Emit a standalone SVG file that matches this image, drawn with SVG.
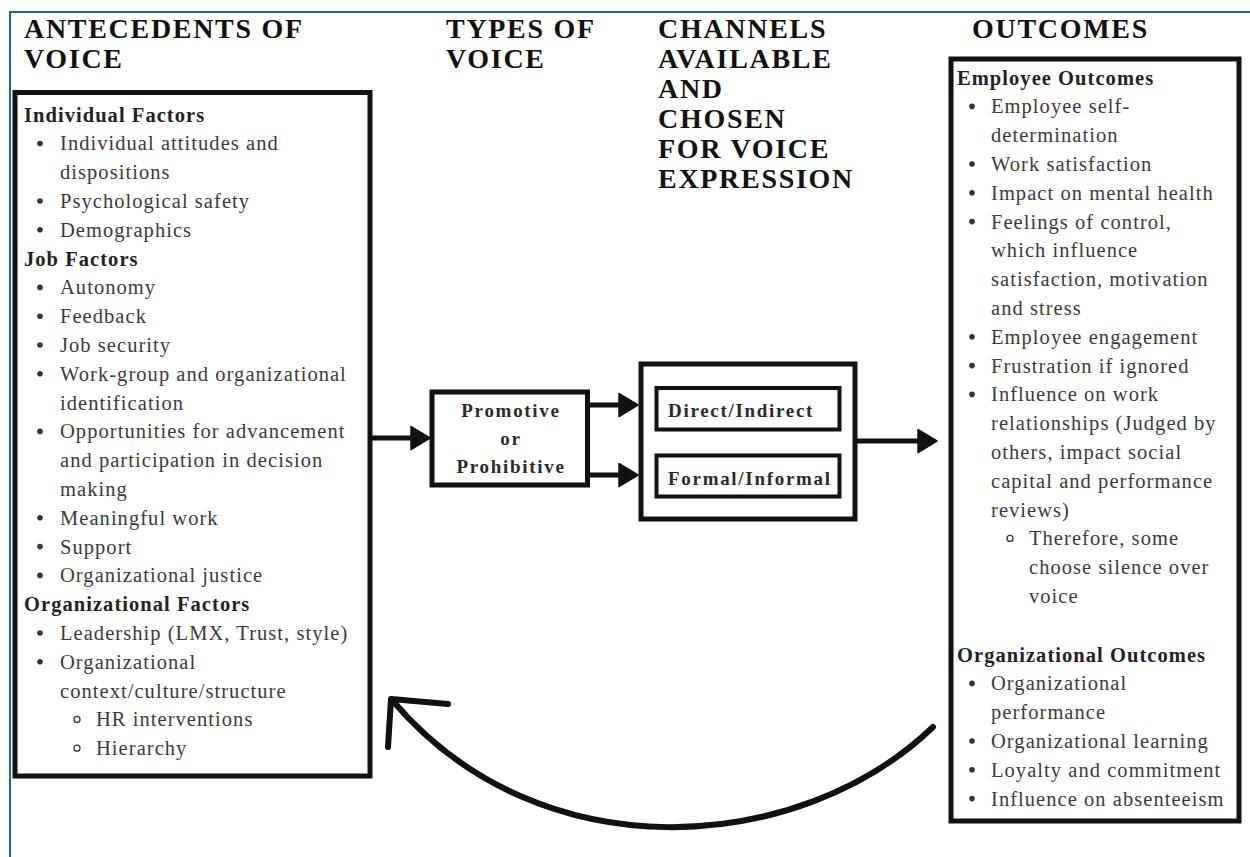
<svg xmlns="http://www.w3.org/2000/svg" width="1250" height="857" viewBox="0 0 1250 857">
  <style>
    .title { font-family: "Liberation Serif", "Times New Roman", serif; font-weight: bold; font-size: 28px; letter-spacing: 1.7px; fill: #111; }
    .head { font-family: "Liberation Serif", "Times New Roman", serif; font-weight: bold; font-size: 20.5px; letter-spacing: 1.05px; fill: #222; }
    .body { font-family: "Liberation Serif", "Times New Roman", serif; font-size: 20.5px; letter-spacing: 1.05px; fill: #3a3a3a; }
    .label { font-family: "Liberation Serif", "Times New Roman", serif; font-weight: bold; font-size: 19px; letter-spacing: 1.7px; fill: #2a2a2a; }
    .box { fill: #fff; stroke: #111; stroke-width: 5; }
    .inner { fill: #fff; stroke: #111; stroke-width: 4; }
    .dot { fill: #333; }
    .ring { fill: none; stroke: #333; stroke-width: 1.3; }
    .conn { stroke: #111; stroke-width: 5; fill: none; }
    .loop { stroke: #111; stroke-width: 6; fill: none; stroke-linecap: round; stroke-linejoin: round; }
    .frame { stroke: #1f6592; stroke-width: 2; fill: none; }
  </style>
  <defs>
    <marker id="head" markerUnits="userSpaceOnUse" markerWidth="22" markerHeight="26" viewBox="-1 -1 22 26" refX="10" refY="11.5" orient="auto">
      <path d="M0,0 L19,11.5 L0,23 Z" fill="#111" stroke="#111" stroke-width="1.5" stroke-linejoin="round"/>
    </marker>
  </defs>

  <rect width="1250" height="857" fill="#fff"/>

  <!-- page frame -->
  <path class="frame" d="M10,857 V12 H1250"/>

  <!-- column headings -->
  <g id="headings">
    <text class="title" x="24" y="38">ANTECEDENTS OF</text>
    <text class="title" x="24" y="68">VOICE</text>
    <text class="title" x="446" y="38">TYPES OF</text>
    <text class="title" x="446" y="68">VOICE</text>
    <text class="title" x="658" y="38">CHANNELS</text>
    <text class="title" x="658" y="68">AVAILABLE</text>
    <text class="title" x="658" y="98">AND</text>
    <text class="title" x="658" y="128">CHOSEN</text>
    <text class="title" x="658" y="158">FOR VOICE</text>
    <text class="title" x="658" y="188">EXPRESSION</text>
    <text class="title" x="972" y="38">OUTCOMES</text>
  </g>

  <!-- antecedents box -->
  <g id="antecedents">
    <rect class="box" x="15" y="92.5" width="355" height="683.5"/>
    <text class="head" x="24" y="121.5">Individual Factors</text>
    <circle class="dot" cx="40" cy="143.5" r="2.8"/><text class="body" x="60" y="150.3">Individual attitudes and</text>
    <text class="body" x="60" y="179.1">dispositions</text>
    <circle class="dot" cx="40" cy="201" r="2.8"/><text class="body" x="60" y="207.9">Psychological safety</text>
    <circle class="dot" cx="40" cy="229.8" r="2.8"/><text class="body" x="60" y="236.7">Demographics</text>
    <text class="head" x="24" y="265.5">Job Factors</text>
    <circle class="dot" cx="40" cy="287.4" r="2.8"/><text class="body" x="60" y="294.3">Autonomy</text>
    <circle class="dot" cx="40" cy="316.2" r="2.8"/><text class="body" x="60" y="323.1">Feedback</text>
    <circle class="dot" cx="40" cy="345" r="2.8"/><text class="body" x="60" y="351.9">Job security</text>
    <circle class="dot" cx="40" cy="373.8" r="2.8"/><text class="body" x="60" y="380.7">Work-group and organizational</text>
    <text class="body" x="60" y="409.5">identification</text>
    <circle class="dot" cx="40" cy="431.4" r="2.8"/><text class="body" x="60" y="438.3">Opportunities for advancement</text>
    <text class="body" x="60" y="467.1">and participation in decision</text>
    <text class="body" x="60" y="495.9">making</text>
    <circle class="dot" cx="40" cy="517.8" r="2.8"/><text class="body" x="60" y="524.7">Meaningful work</text>
    <circle class="dot" cx="40" cy="546.6" r="2.8"/><text class="body" x="60" y="553.5">Support</text>
    <circle class="dot" cx="40" cy="575.4" r="2.8"/><text class="body" x="60" y="582.3">Organizational justice</text>
    <text class="head" x="24" y="611.1">Organizational Factors</text>
    <circle class="dot" cx="40" cy="633" r="2.8"/><text class="body" x="60" y="639.9">Leadership (LMX, Trust, style)</text>
    <circle class="dot" cx="40" cy="661.8" r="2.8"/><text class="body" x="60" y="668.7">Organizational</text>
    <text class="body" x="60" y="697.5">context/culture/structure</text>
    <circle class="ring" cx="77" cy="719.4" r="3"/><text class="body" x="96" y="726.3">HR interventions</text>
    <circle class="ring" cx="77" cy="748.2" r="3"/><text class="body" x="96" y="755.1">Hierarchy</text>
  </g>

  <!-- types of voice -->
  <g id="types">
    <rect class="box" x="432" y="392" width="155.5" height="93" stroke-width="5.5"/>
    <text class="label" x="511" y="417" text-anchor="middle">Promotive</text>
    <text class="label" x="511" y="445" text-anchor="middle">or</text>
    <text class="label" x="511" y="473" text-anchor="middle">Prohibitive</text>
  </g>

  <!-- channels -->
  <g id="channels">
    <rect class="box" x="641" y="364" width="214" height="155"/>
    <g id="direct-indirect">
      <rect class="inner" x="656.5" y="388" width="183" height="41.5"/>
      <text class="label" x="668" y="417">Direct/Indirect</text>
    </g>
    <g id="formal-informal">
      <rect class="inner" x="656.5" y="455.5" width="183" height="41"/>
      <text class="label" x="668" y="485">Formal/Informal</text>
    </g>
  </g>

  <!-- outcomes -->
  <g id="outcomes">
    <rect class="box" x="951" y="59" width="288" height="762"/>
    <text class="head" x="957" y="84.5">Employee Outcomes</text>
    <circle class="dot" cx="972" cy="106.4" r="2.8"/><text class="body" x="991" y="113.3">Employee self-</text>
    <text class="body" x="991" y="142.1">determination</text>
    <circle class="dot" cx="972" cy="164" r="2.8"/><text class="body" x="991" y="170.9">Work satisfaction</text>
    <circle class="dot" cx="972" cy="192.8" r="2.8"/><text class="body" x="991" y="199.7">Impact on mental health</text>
    <circle class="dot" cx="972" cy="221.6" r="2.8"/><text class="body" x="991" y="228.5">Feelings of control,</text>
    <text class="body" x="991" y="257.3">which influence</text>
    <text class="body" x="991" y="286.1">satisfaction, motivation</text>
    <text class="body" x="991" y="314.9">and stress</text>
    <circle class="dot" cx="972" cy="336.8" r="2.8"/><text class="body" x="991" y="343.7">Employee engagement</text>
    <circle class="dot" cx="972" cy="365.6" r="2.8"/><text class="body" x="991" y="372.5">Frustration if ignored</text>
    <circle class="dot" cx="972" cy="394.4" r="2.8"/><text class="body" x="991" y="401.3">Influence on work</text>
    <text class="body" x="991" y="430.1">relationships (Judged by</text>
    <text class="body" x="991" y="458.9">others, impact social</text>
    <text class="body" x="991" y="487.7">capital and performance</text>
    <text class="body" x="991" y="516.5">reviews)</text>
    <circle class="ring" cx="1010" cy="538.4" r="3"/><text class="body" x="1029" y="545.3">Therefore, some</text>
    <text class="body" x="1029" y="574.1">choose silence over</text>
    <text class="body" x="1029" y="602.9">voice</text>
    <text class="head" x="957" y="661.5">Organizational Outcomes</text>
    <circle class="dot" cx="972" cy="683.4" r="2.8"/><text class="body" x="991" y="690.3">Organizational</text>
    <text class="body" x="991" y="719.1">performance</text>
    <circle class="dot" cx="972" cy="741" r="2.8"/><text class="body" x="991" y="747.9">Organizational learning</text>
    <circle class="dot" cx="972" cy="769.8" r="2.8"/><text class="body" x="991" y="776.7">Loyalty and commitment</text>
    <circle class="dot" cx="972" cy="798.6" r="2.8"/><text class="body" x="991" y="805.5">Influence on absenteeism</text>
  </g>

  <!-- connectors -->
  <g id="connectors">
    <line class="conn" x1="372" y1="438" x2="421" y2="438" marker-end="url(#head)"/>
    <line class="conn" x1="590" y1="405" x2="629" y2="405" marker-end="url(#head)"/>
    <line class="conn" x1="590" y1="475" x2="629" y2="475" marker-end="url(#head)"/>
    <line class="conn" x1="857" y1="441" x2="928" y2="441" marker-end="url(#head)"/>
    <!-- feedback loop from outcomes back to antecedents -->
    <path class="loop" d="M933,727 C800,855 540,875 392,700"/>
    <path class="loop" d="M448,704 L391,699 L388,747"/>
  </g>
</svg>
